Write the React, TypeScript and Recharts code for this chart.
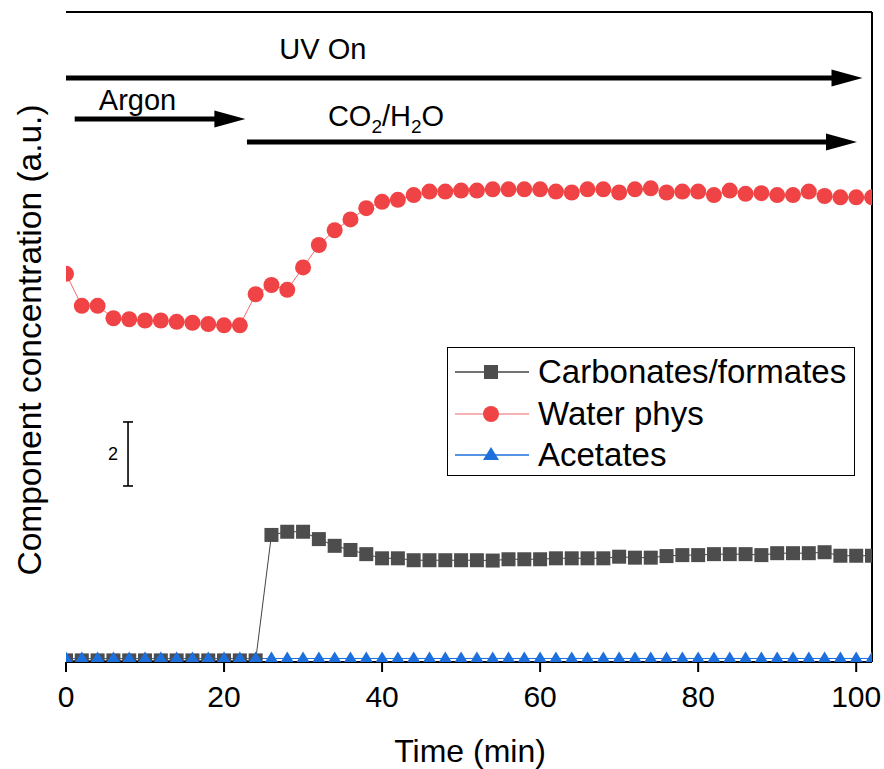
import { LineChart, Line, XAxis, YAxis, ReferenceLine, ReferenceDot } from 'recharts';

const time = [
  0, 2, 4, 6, 8, 10, 12, 14, 16, 18, 20, 22, 24, 26, 28, 30, 32, 34, 36, 38, 40, 42, 44, 46, 48, 50,
  52, 54, 56, 58, 60, 62, 64, 66, 68, 70, 72, 74, 76, 78, 80, 82, 84, 86, 88, 90, 92, 94, 96, 98, 100, 102,
];

const carbonates = [
  0.05, 0.05, 0.05, 0.05, 0.05, 0.05, 0.05, 0.05, 0.05, 0.05, 0.05, 0.05, 0.05,
  3.97, 4.07, 4.07, 3.84, 3.63, 3.5, 3.37, 3.24, 3.24, 3.18, 3.18, 3.18, 3.18, 3.18, 3.17, 3.21, 3.21,
  3.21, 3.24, 3.24, 3.24, 3.24, 3.29, 3.26, 3.26, 3.31, 3.34, 3.34, 3.37, 3.37, 3.37, 3.34, 3.4, 3.4,
  3.4, 3.43, 3.32, 3.32, 3.32,
];

const waterPhys = [
  12.13, 11.13, 11.13, 10.74, 10.71, 10.67, 10.67, 10.63, 10.6, 10.56, 10.52, 10.52, 11.49, 11.78,
  11.63, 12.33, 13.03, 13.49, 13.83, 14.18, 14.38, 14.44, 14.59, 14.7, 14.7, 14.73, 14.73, 14.77,
  14.77, 14.77, 14.77, 14.7, 14.67, 14.77, 14.77, 14.67, 14.77, 14.8, 14.67, 14.7, 14.7, 14.59, 14.73,
  14.63, 14.65, 14.59, 14.59, 14.7, 14.56, 14.52, 14.52, 14.52,
];

const acetates = [
  0.11, 0.11, 0.11, 0.11, 0.11, 0.11, 0.11, 0.11, 0.11, 0.11, 0.11, 0.11, 0.11, 0.11, 0.11, 0.11,
  0.11, 0.11, 0.11, 0.11, 0.11, 0.11, 0.11, 0.11, 0.11, 0.11, 0.11, 0.11, 0.11, 0.11, 0.11, 0.11,
  0.11, 0.11, 0.11, 0.11, 0.11, 0.11, 0.11, 0.11, 0.11, 0.11, 0.11, 0.11, 0.11, 0.11, 0.11, 0.11,
  0.11, 0.11, 0.11, 0.11,
];

const xTicks = [0, 20, 40, 60, 80, 100];
const seriesNames = ['Carbonates/formates', 'Water phys', 'Acetates'];

const rows = time.map((t, i) => ({
  t,
  carb: carbonates[i],
  water: waterPhys[i],
  acet: acetates[i],
}));

const FONT = '"Liberation Sans", Arial, sans-serif';
const GREY = '#4d4d4d';
const RED = '#f04345';
const BLUE = '#1c6fdc';

const Square = (p: any) =>
  p.cx == null ? null : (
    <rect key={`sq${p.index}`} x={p.cx - 7} y={p.cy - 7} width={14} height={14} fill={GREY} />
  );

const Circle = (p: any) =>
  p.cx == null ? null : <circle key={`ci${p.index}`} cx={p.cx} cy={p.cy} r={8} fill={RED} />;

const Triangle = (p: any) =>
  p.cx == null ? null : (
    <polygon
      key={`tr${p.index}`}
      points={`${p.cx},${p.cy - 7} ${p.cx - 6.5},${p.cy + 3.6} ${p.cx + 6.5},${p.cy + 3.6}`}
      fill={BLUE}
    />
  );

// horizontal arrow with a filled head
const Arrow = (p: any) => {
  const { x1, y1, x2 } = p;
  return (
    <g>
      <line x1={x1} y1={y1} x2={x2 - 26} y2={y1} stroke="#000" strokeWidth={5} />
      <polygon points={`${x2},${y1} ${x2 - 31},${y1 - 8.5} ${x2 - 31},${y1 + 8.5}`} fill="#000" />
    </g>
  );
};

// vertical scale bar with caps
const ScaleBar = (p: any) => {
  const { x1, y1, y2 } = p;
  return (
    <g stroke="#000" strokeWidth={1.6}>
      <line x1={x1} y1={y1} x2={x1} y2={y2} />
      <line x1={x1 - 5} y1={y1} x2={x1 + 5} y2={y1} />
      <line x1={x1 - 5} y1={y2} x2={x1 + 5} y2={y2} />
    </g>
  );
};

const txt = (label: any, size: number) => (p: any) => (
  <text x={p.cx} y={p.cy} textAnchor="middle" fontSize={size} fontFamily={FONT} fill="#000">
    {label}
  </text>
);

const co2Label = (
  <>
    CO<tspan fontSize={19} dy={7}>2</tspan>
    <tspan dy={-7}>/H</tspan>
    <tspan fontSize={19} dy={7}>2</tspan>
    <tspan dy={-7}>O</tspan>
  </>
);

const XLabel = () => (
  <text x={470} y={762} textAnchor="middle" fontSize={32} fontFamily={FONT} fill="#000">
    Time (min)
  </text>
);

const legendMarks = [
  { color: '#444', line: '#444', shape: 'sq' },
  { color: RED, line: '#f59a9a', shape: 'ci' },
  { color: BLUE, line: BLUE, shape: 'tr' },
];

function LegendBox() {
  return (
    <div
      style={{
        position: 'absolute',
        left: 447,
        top: 347,
        width: 406,
        height: 127,
        border: '1px solid #000',
        background: '#fff',
        fontFamily: FONT,
      }}
    >
      {seriesNames.map((name, i) => (
        <div
          key={name}
          style={{ position: 'absolute', left: 7, top: 4 + i * 41.5, height: 40, display: 'flex', alignItems: 'center' }}
        >
          <svg width={76} height={40}>
            <line x1={0} y1={20} x2={74} y2={20} stroke={legendMarks[i].line} strokeWidth={1.3} />
            {legendMarks[i].shape === 'sq' && <rect x={29} y={13} width={14} height={14} fill={GREY} />}
            {legendMarks[i].shape === 'ci' && <circle cx={36} cy={20} r={8} fill={RED} />}
            {legendMarks[i].shape === 'tr' && <polygon points="36,12 28,25 44,25" fill={BLUE} />}
          </svg>
          <span style={{ fontSize: 33, marginLeft: 7, lineHeight: '40px', color: '#000' }}>{name}</span>
        </div>
      ))}
    </div>
  );
}

function YTitle() {
  return (
    <svg width={60} height={769} style={{ position: 'absolute', left: 0, top: 0 }}>
      <text
        x={29}
        y={340}
        transform="rotate(-90, 29, 340)"
        textAnchor="middle"
        dominantBaseline="central"
        fontSize={33.5}
        fontFamily={FONT}
        fill="#000"
      >
        Component concentration (a.u.)
      </text>
    </svg>
  );
}

export default function App() {
  return (
    <div style={{ position: 'absolute', left: 0, top: 0, width: 884, height: 769, background: '#fff' }}>
      <LineChart width={884} height={769} data={rows} margin={{ top: 12, right: 12, left: 66, bottom: 47 }}>
        <XAxis
          type="number"
          dataKey="t"
          domain={[0, 102]}
          ticks={xTicks}
          allowDataOverflow
          height={60}
          tickSize={10}
          tickMargin={14}
          tick={{ fontSize: 30, fill: '#000', fontFamily: FONT }}
          tickLine={{ stroke: '#000', strokeWidth: 2 }}
          axisLine={{ stroke: '#000', strokeWidth: 2 }}
          label={{ content: XLabel }}
        />
        <YAxis
          type="number"
          domain={[0, 20.31]}
          allowDataOverflow
          width={0}
          tick={false}
          tickLine={false}
          axisLine={{ stroke: '#000', strokeWidth: 2 }}
        />
        <ReferenceLine y={20.31} stroke="#000" strokeWidth={2} />
        <ReferenceLine x={102} stroke="#000" strokeWidth={2} />

        <Line
          dataKey="carb"
          name={seriesNames[0]}
          stroke="#444"
          strokeWidth={1}
          dot={Square}
          activeDot={false}
          isAnimationActive={false}
        />
        <Line
          dataKey="water"
          name={seriesNames[1]}
          stroke="#f26a6a"
          strokeWidth={1}
          dot={Circle}
          activeDot={false}
          isAnimationActive={false}
        />
        <Line
          dataKey="acet"
          name={seriesNames[2]}
          stroke={BLUE}
          strokeWidth={1}
          dot={Triangle}
          activeDot={false}
          isAnimationActive={false}
        />

        <ReferenceLine segment={[{ x: 0, y: 18.25 }, { x: 100.8, y: 18.25 }]} shape={Arrow} />
        <ReferenceLine segment={[{ x: 1.1, y: 16.97 }, { x: 22.7, y: 16.97 }]} shape={Arrow} />
        <ReferenceLine segment={[{ x: 22.9, y: 16.25 }, { x: 100.1, y: 16.25 }]} shape={Arrow} />
        <ReferenceLine segment={[{ x: 7.85, y: 5.5 }, { x: 7.85, y: 7.5 }]} shape={ScaleBar} />

        <ReferenceDot x={32.5} y={18.84} r={0} shape={txt('UV On', 29)} />
        <ReferenceDot x={9.05} y={17.25} r={0} shape={txt('Argon', 29)} />
        <ReferenceDot x={40.5} y={16.75} r={0} shape={txt(co2Label, 29)} />
        <ReferenceDot x={5.95} y={6.31} r={0} shape={txt('2', 18)} />
      </LineChart>
      <YTitle />
      <LegendBox />
    </div>
  );
}
